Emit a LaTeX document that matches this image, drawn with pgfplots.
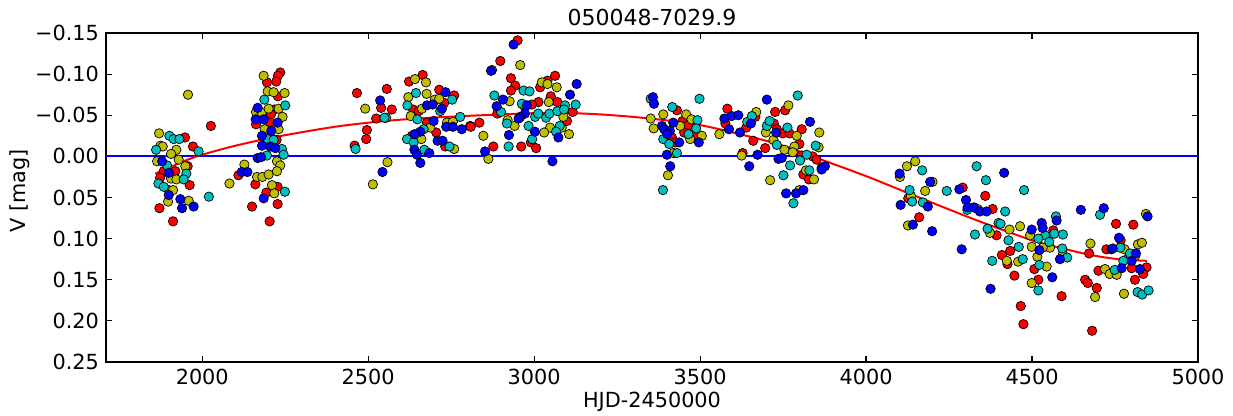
\documentclass[border=0pt]{standalone}
\usepackage{fontspec}
\setmainfont{DejaVu Sans}
\usepackage{pgfplots}
\pgfplotsset{compat=1.18}
\definecolor{mr}{rgb}{1,0,0}
\definecolor{my}{rgb}{0.75,0.75,0}
\definecolor{mc}{rgb}{0,0.75,0.75}
\definecolor{mb}{rgb}{0,0,1}
\pgfplotsset{pts/.style={only marks, mark=*, mark size=2.35pt, mark options={fill=#1, draw=black, line width=0.35pt}}}
\begin{document}
\begin{tikzpicture}
\begin{axis}[
 scale only axis, width=546pt, height=164.5pt,
 xmin=1710, xmax=5000, ymin=-0.15, ymax=0.25, y dir=reverse,
 xtick={2000,2500,3000,3500,4000,4500,5000},
 xticklabels={2000,2500,3000,3500,4000,4500,5000},
 ytick={-0.15,-0.1,-0.05,0,0.05,0.1,0.15,0.2,0.25},
 yticklabels={−0.15,−0.10,−0.05,0.00,0.05,0.10,0.15,0.20,0.25},
 tick align=inside, major tick length=3pt,
 axis line style={line width=0.8pt},
 tick style={line width=0.6pt, black},
 tick label style={font=\fontsize{10.4}{12}\selectfont},
 label style={font=\fontsize{10.4}{12}\selectfont},
 every axis title shift=0pt,
 title style={font=\fontsize{11}{13}\selectfont, at={(axis description cs:0.5,1.0486)}, anchor=center},
 xlabel style={at={(axis description cs:0.5,-0.1216)}, anchor=center},
 ylabel style={at={(axis description cs:-0.0788,0.52)}, anchor=center},
 title={050048-7029.9},
 xlabel={HJD-2450000},
 ylabel={V [mag]},
 clip=true,
]
\addplot[mb, line width=1pt] coordinates {(1710,0) (5000,0)};
\addplot[pts=mr] coordinates {
(1948,-0.023)(1972,-0.012)(2026,-0.037)(1884,0.018)(1873,0.026)(1919,0.018)(1956,0.012)(1962,0.035)(1871,0.063)(1912,0.079)
(2235,-0.102)(2228,-0.098)(2195,-0.090)(2223,-0.091)(2228,-0.073)(2217,-0.057)(2207,-0.051)(2162,-0.039)(2205,-0.041)(2224,-0.020)(2109,0.023)(2160,0.034)(2227,0.037)(2193,0.044)(2227,0.058)(2150,0.061)(2203,0.079)
(2466,-0.077)(2556,-0.082)(2539,-0.059)(2571,-0.057)(2524,-0.046)(2496,-0.032)(2494,-0.021)(2459,-0.013)(2623,-0.091)(2664,-0.099)(2635,-0.057)(2652,-0.055)(2714,-0.081)(2759,-0.074)(2729,-0.065)(2677,-0.041)(2705,-0.029)(2632,-0.025)(2732,-0.012)(2807,-0.037)
(2950,-0.141)(2898,-0.116)(2930,-0.095)(2943,-0.086)(2930,-0.080)(3018,-0.084)(3040,-0.092)(3063,-0.098)(3050,-0.073)(3070,-0.066)(3013,-0.066)(2993,-0.063)(3116,-0.054)(3099,-0.043)(2889,-0.052)(2835,-0.041)(2809,-0.036)(2990,-0.017)(3006,-0.010)(2961,-0.012)(2877,-0.012)
(3430,-0.056)(3447,-0.043)(3462,-0.037)(3452,-0.029)(3415,-0.023)(3487,-0.024)(3425,-0.017)(3582,-0.058)(3576,-0.040)(3639,-0.035)(3666,-0.048)(3726,-0.054)(3756,-0.056)(3722,-0.040)(3731,-0.033)(3749,-0.028)(3769,-0.028)(3806,-0.033)(3660,-0.019)(3696,-0.010)(3799,-0.015)(3806,-0.001)(3839,0.000)(3851,0.004)(3628,-0.004)(3811,0.022)(3828,0.028)
(4127,0.051)(4160,0.074)(4291,0.038)(4381,0.064)(4359,0.048)(4393,0.096)(4434,0.115)(4409,0.120)(4426,0.131)(4447,0.145)(4466,0.182)(4474,0.204)
(4753,0.082)(4805,0.083)(4564,0.090)(4507,0.137)(4519,0.150)(4589,0.170)(4672,0.118)(4724,0.113)(4767,0.102)(4800,0.136)(4845,0.135)(4835,0.143)(4700,0.139)(4810,0.150)(4660,0.150)(4668,0.154)(4695,0.160)(4681,0.212)
};
\addplot[pts=my] coordinates {
(1957,-0.075)(1870,-0.028)(1874,-0.013)(1881,-0.012)(1922,-0.008)(1906,-0.003)(1864,0.006)(1929,0.004)(1906,0.027)(1922,0.028)(1949,0.012)(1899,0.041)(1912,0.041)(1897,0.055)(1959,0.054)(2082,0.033)
(2185,-0.098)(2197,-0.079)(2215,-0.078)(2248,-0.077)(2162,-0.054)(2179,-0.053)(2200,-0.058)(2230,-0.058)(2242,-0.048)(2188,-0.033)(2230,-0.033)(2225,0.006)(2235,0.011)(2127,0.010)(2165,0.025)(2181,0.025)(2200,0.022)(2225,0.018)(2210,0.035)(2217,0.045)
(2491,-0.058)(2554,-0.047)(2558,0.007)(2514,0.034)(2641,-0.094)(2674,-0.090)(2621,-0.072)(2676,-0.076)(2662,-0.058)(2701,-0.069)(2714,-0.070)(2628,-0.049)(2687,-0.035)(2660,-0.021)(2759,-0.009)(2737,-0.041)(2755,-0.042)
(2873,-0.105)(2958,-0.111)(2926,-0.067)(3023,-0.090)(3040,-0.088)(3068,-0.084)(2968,-0.062)(3044,-0.066)(3088,-0.048)(2920,-0.044)(2941,-0.037)(3048,-0.035)(3083,-0.035)(3030,-0.029)(3105,-0.027)(2847,-0.025)(2862,0.003)
(3389,-0.051)(3351,-0.046)(3458,-0.051)(3474,-0.045)(3440,-0.037)(3360,-0.034)(3505,-0.025)(3470,-0.021)(3420,-0.004)(3403,0.023)(3558,-0.027)(3669,-0.054)(3766,-0.062)(3859,-0.029)(3698,-0.029)(3791,-0.025)(3721,-0.020)(3784,-0.012)(3754,-0.008)(3779,-0.005)(3857,-0.011)(3625,-0.001)(3711,0.029)(3819,0.017)(3843,0.028)(3799,0.041)
(4148,0.006)(4123,0.012)(4102,0.025)(4200,0.031)(4178,0.042)(4135,0.048)(4126,0.084)(4336,0.064)(4373,0.093)(4432,0.089)(4424,0.127)(4458,0.128)(4464,0.085)
(4843,0.070)(4494,0.096)(4554,0.111)(4532,0.111)(4499,0.110)(4593,0.119)(4516,0.122)(4544,0.134)(4499,0.154)(4676,0.106)(4779,0.113)(4819,0.107)(4831,0.105)(4811,0.121)(4787,0.125)(4720,0.137)(4734,0.143)(4755,0.144)(4690,0.171)(4777,0.167)
};
\addplot[pts=mc] coordinates {
(1901,-0.025)(1914,-0.021)(1931,-0.021)(1861,-0.008)(1989,-0.006)(1894,0.011)(1868,0.033)(1884,0.037)(1952,0.021)(1944,0.028)(2020,0.049)
(2187,-0.069)(2250,-0.062)(2197,-0.021)(2215,-0.020)(2240,-0.009)(2245,-0.002)(2195,-0.001)(2249,0.043)
(2462,-0.009)(2549,-0.047)(2644,-0.077)(2618,-0.062)(2753,-0.069)(2717,-0.055)(2648,-0.045)(2667,-0.033)(2617,-0.021)(2637,-0.017)(2745,-0.012)(2669,-0.008)(2777,-0.048)
(2880,-0.074)(2968,-0.080)(2986,-0.079)(2963,-0.064)(3093,-0.062)(3125,-0.063)(2900,-0.054)(3003,-0.048)(3012,-0.052)(3036,-0.047)(3046,-0.052)(3070,-0.055)(3090,-0.057)(2918,-0.040)(2983,-0.037)(3077,-0.037)(3066,-0.030)(2994,-0.021)(2923,-0.012)
(3351,-0.070)(3498,-0.070)(3416,-0.060)(3492,-0.044)(3488,-0.034)(3465,-0.027)(3389,-0.021)(3407,-0.015)(3430,-0.004)(3388,0.041)(3642,-0.042)(3656,-0.049)(3794,-0.074)(3701,-0.037)(3709,-0.043)(3763,-0.035)(3731,-0.014)(3848,-0.013)(3821,-0.002)(3801,0.005)(3771,0.011)(3751,0.023)(3829,0.017)(3781,0.057)
(4169,0.017)(4131,0.041)(4139,0.055)(4171,0.056)(4243,0.042)(4305,0.065)(4333,0.012)(4361,0.029)(4419,0.067)(4476,0.041)(4399,0.081)(4405,0.082)(4366,0.088)(4328,0.095)(4429,0.102)(4380,0.127)(4460,0.110)(4472,0.125)
(4705,0.071)(4572,0.073)(4567,0.094)(4593,0.095)(4539,0.096)(4552,0.104)(4519,0.100)(4591,0.112)(4606,0.123)(4522,0.132)(4519,0.163)(4766,0.111)(4795,0.118)(4775,0.127)(4749,0.138)(4818,0.165)(4832,0.168)(4851,0.163)
};
\addplot[pts=mb] coordinates {
(1879,0.006)(1899,0.020)(1899,0.047)(1934,0.052)(1939,0.063)(1974,0.061)
(2167,-0.059)(2161,-0.045)(2185,-0.045)(2227,-0.041)(2208,-0.031)(2180,-0.025)(2180,-0.013)(2205,-0.012)(2220,-0.010)(2167,0.002)(2177,0.001)(2119,0.019)(2136,0.019)(2185,0.051)
(2536,-0.068)(2543,0.019)(2677,-0.062)(2694,-0.063)(2733,-0.078)(2722,-0.058)(2697,-0.043)(2657,-0.030)(2640,-0.027)(2709,-0.019)(2724,-0.019)(2639,-0.008)(2684,-0.004)(2647,-0.002)(2657,0.008)(2735,-0.036)(2755,-0.036)(2782,-0.033)
(2938,-0.136)(2870,-0.104)(3128,-0.088)(3108,-0.075)(2906,-0.069)(2978,-0.062)(2887,-0.061)(2972,-0.052)(2958,-0.048)(2953,-0.046)(3002,-0.030)(3073,-0.023)(2924,-0.026)(2852,-0.006)(3055,0.006)
(3358,-0.072)(3361,-0.064)(3419,-0.041)(3385,-0.037)(3392,-0.033)(3409,-0.031)(3401,-0.027)(3437,-0.017)(3496,-0.017)(3400,-0.002)(3410,0.012)(3573,-0.046)(3595,-0.049)(3615,-0.050)(3587,-0.033)(3620,-0.029)(3653,-0.040)(3701,-0.069)(3831,-0.042)(3729,-0.029)(3673,-0.002)(3736,0.003)(3746,0.002)(3648,0.012)(3866,0.014)(3876,0.012)(3866,0.016)(3759,0.045)(3789,0.045)(3811,0.041)
(4101,0.021)(4193,0.031)(4104,0.059)(4186,0.061)(4141,0.083)(4199,0.091)(4281,0.040)(4301,0.053)(4306,0.062)(4325,0.062)(4343,0.067)(4363,0.067)(4416,0.020)(4288,0.113)(4375,0.161)
(4647,0.065)(4716,0.063)(4848,0.073)(4574,0.078)(4529,0.081)(4532,0.087)(4499,0.089)(4522,0.114)(4584,0.125)(4561,0.147)(4739,0.113)(4743,0.112)(4762,0.099)(4813,0.118)(4800,0.127)(4770,0.136)(4825,0.137)
};
\addplot[mr, line width=1pt, smooth] coordinates {
(1858,0.021)(1950,0.005)(2000,-0.002)(2100,-0.013)(2226,-0.024)(2400,-0.036)(2550,-0.043)(2687,-0.047)(2900,-0.051)(3057,-0.053)(3200,-0.051)(3349,-0.046)(3500,-0.038)(3650,-0.024)(3750,-0.013)(3852,0.002)(4000,0.024)(4123,0.044)(4322,0.076)(4464,0.097)(4524,0.105)(4666,0.119)(4760,0.125)(4846,0.127)
};
\end{axis}
\pgfresetboundingbox
\path[use as bounding box] ([xshift=-53pt,yshift=-27pt]current axis.south west) rectangle ([xshift=17.5pt,yshift=16.5pt]current axis.north east);
\end{tikzpicture}
\end{document}
